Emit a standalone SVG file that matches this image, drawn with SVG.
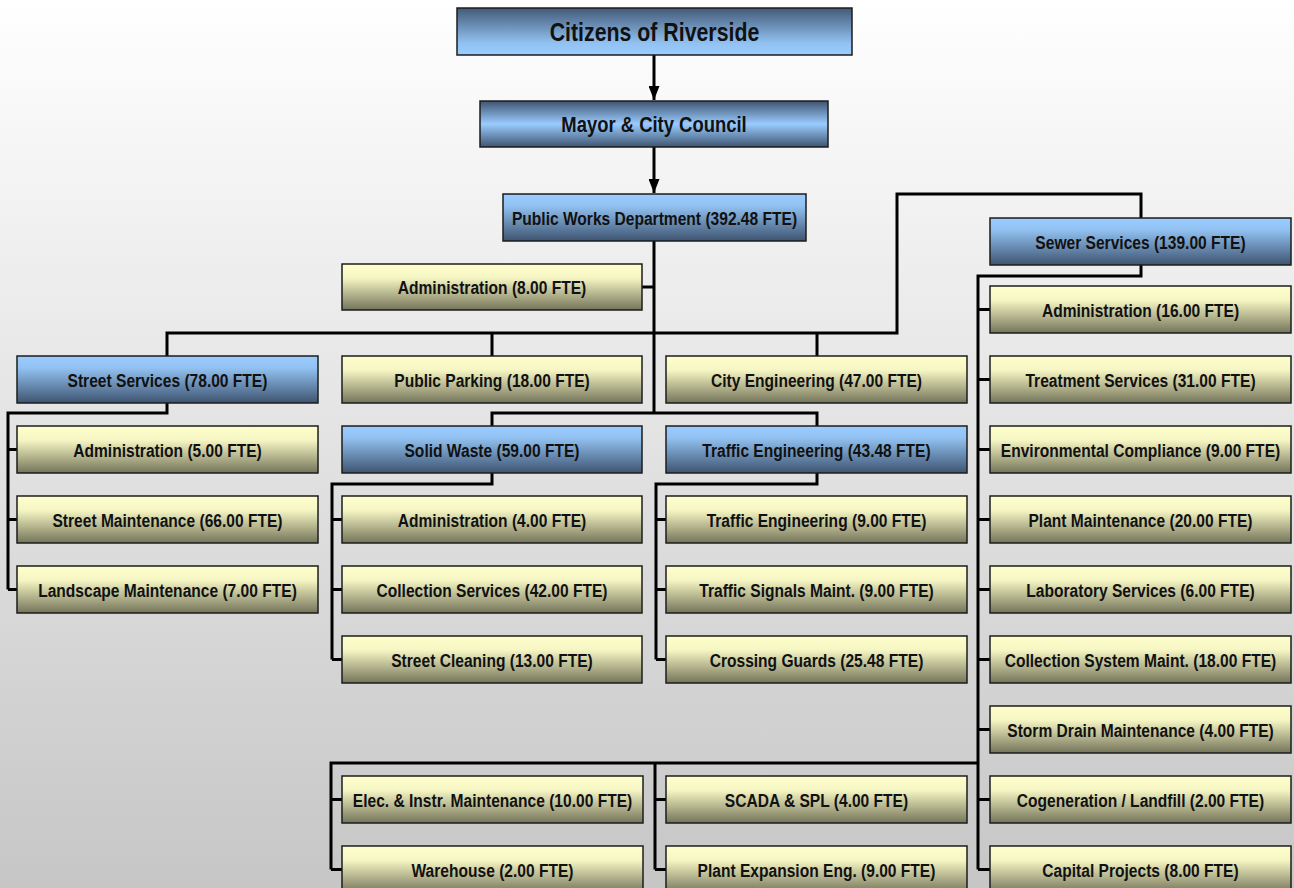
<svg xmlns="http://www.w3.org/2000/svg" width="1294" height="888" viewBox="0 0 1294 888">
<defs>
<linearGradient id="bg" x1="0" y1="0" x2="0" y2="1"><stop offset="0" stop-color="#ffffff"/><stop offset="1" stop-color="#c6c6c6"/></linearGradient>
<linearGradient id="blueUp" x1="0" y1="0" x2="0" y2="1"><stop offset="0" stop-color="#9accff"/><stop offset="0.25" stop-color="#92c2f2"/><stop offset="1" stop-color="#3e5470"/></linearGradient>
<linearGradient id="blueDown" x1="0" y1="0" x2="0" y2="1"><stop offset="0" stop-color="#435a78"/><stop offset="0.75" stop-color="#92c2f2"/><stop offset="1" stop-color="#9accff"/></linearGradient>
<linearGradient id="blueMid" x1="0" y1="0" x2="0" y2="1"><stop offset="0" stop-color="#3e5470"/><stop offset="0.5" stop-color="#9accff"/><stop offset="1" stop-color="#3e5470"/></linearGradient>
<linearGradient id="yel" x1="0" y1="0" x2="0" y2="1"><stop offset="0" stop-color="#ffffcc"/><stop offset="0.3" stop-color="#f6f6c4"/><stop offset="1" stop-color="#74745a"/></linearGradient>
<marker id="arr" viewBox="0 0 14 11" refX="14" refY="5.5" markerWidth="14" markerHeight="11" markerUnits="userSpaceOnUse" orient="auto"><path d="M0,0 L14,5.5 L0,11 Z" fill="#000"/></marker>
</defs>
<style>
.b{stroke:#1c1c1c;stroke-width:1.5}
.bu{fill:url(#blueUp)}
.y{fill:url(#yel)}
text{font-family:"Liberation Sans",Arial,sans-serif;font-weight:bold;font-size:19px;text-anchor:middle;fill:#111}
.c{fill:none;stroke:#000;stroke-width:3}
</style>
<rect width="1294" height="888" fill="url(#bg)"/>
<g id="connectors">
<path class="c" d="M654,55 V100" marker-end="url(#arr)"/>
<path class="c" d="M654,147 V193" marker-end="url(#arr)"/>
<path class="c" d="M654,241 V413"/>
<path class="c" d="M642,287 H654"/>
<path class="c" d="M167,356 V333 H897 V194 H1141 V218"/>
<path class="c" d="M492,333 V356 M817,333 V356"/>
<path class="c" d="M492,426 V413 H817 V426"/>
<path class="c" d="M167,403 V413 H8 V589.5 M8,449.5 H17 M8,519.5 H17 M8,589.5 H17"/>
<path class="c" d="M492,473 V484 H332 V659.5 M332,519.5 H342 M332,589.5 H342 M332,659.5 H342"/>
<path class="c" d="M817,473 V484 H656 V659.5 M656,519.5 H666 M656,589.5 H666 M656,659.5 H666"/>
<path class="c" d="M1141,265 V276 H978 V869.5 M978,309.5 H990 M978,379.5 H990 M978,449.5 H990 M978,519.5 H990 M978,589.5 H990 M978,659.5 H990 M978,729.5 H990 M978,799.5 H990 M978,869.5 H990"/>
<path class="c" d="M978,763 H331 V869.5 M331,799.5 H342 M331,869.5 H342 M655,763 V869.5 M655,799.5 H666 M655,869.5 H666"/>
</g>
<g id="citizens"><rect class="b" x="457" y="8" width="395" height="47" fill="url(#blueDown)"/><text transform="translate(654.5,41) scale(0.82,1)" style="font-size:26px">Citizens of Riverside</text></g>
<g id="mayor"><rect class="b" x="480" y="101" width="348" height="46" fill="url(#blueMid)"/><text transform="translate(654,132) scale(0.82,1)" style="font-size:22.5px">Mayor &amp; City Council</text></g>
<g id="pw"><rect class="b bu" x="503" y="194" width="303" height="47"/><text transform="translate(654.5,224.5) scale(0.82,1)">Public Works Department (392.48 FTE)</text></g>
<g id="admin8"><rect class="b y" x="342" y="264" width="300" height="46"/><text transform="translate(492,294) scale(0.82,1)">Administration (8.00 FTE)</text></g>
<g id="street"><rect class="b bu" x="17" y="356" width="301" height="47"/><text transform="translate(167.5,386.5) scale(0.82,1)">Street Services (78.00 FTE)</text></g>
<g id="parking"><rect class="b y" x="342" y="356" width="300" height="47"/><text transform="translate(492,386.5) scale(0.82,1)">Public Parking (18.00 FTE)</text></g>
<g id="cityeng"><rect class="b y" x="666" y="356" width="301" height="47"/><text transform="translate(816.5,386.5) scale(0.82,1)">City Engineering (47.00 FTE)</text></g>
<g id="street-admin"><rect class="b y" x="17" y="426" width="301" height="47"/><text transform="translate(167.5,456.5) scale(0.82,1)">Administration (5.00 FTE)</text></g>
<g id="street-maint"><rect class="b y" x="17" y="496" width="301" height="47"/><text transform="translate(167.5,526.5) scale(0.82,1)">Street Maintenance (66.00 FTE)</text></g>
<g id="landscape"><rect class="b y" x="17" y="566" width="301" height="47"/><text transform="translate(167.5,596.5) scale(0.82,1)">Landscape Maintenance (7.00 FTE)</text></g>
<g id="solidwaste"><rect class="b bu" x="342" y="426" width="300" height="47"/><text transform="translate(492,456.5) scale(0.82,1)">Solid Waste (59.00 FTE)</text></g>
<g id="sw-admin"><rect class="b y" x="342" y="496" width="300" height="47"/><text transform="translate(492,526.5) scale(0.82,1)">Administration (4.00 FTE)</text></g>
<g id="collection"><rect class="b y" x="342" y="566" width="300" height="47"/><text transform="translate(492,596.5) scale(0.82,1)">Collection Services (42.00 FTE)</text></g>
<g id="cleaning"><rect class="b y" x="342" y="636" width="300" height="47"/><text transform="translate(492,666.5) scale(0.82,1)">Street Cleaning (13.00 FTE)</text></g>
<g id="traffic"><rect class="b bu" x="666" y="426" width="301" height="47"/><text transform="translate(816.5,456.5) scale(0.82,1)">Traffic Engineering (43.48 FTE)</text></g>
<g id="tr-eng"><rect class="b y" x="666" y="496" width="301" height="47"/><text transform="translate(816.5,526.5) scale(0.82,1)">Traffic Engineering (9.00 FTE)</text></g>
<g id="tr-signals"><rect class="b y" x="666" y="566" width="301" height="47"/><text transform="translate(816.5,596.5) scale(0.82,1)">Traffic Signals Maint. (9.00 FTE)</text></g>
<g id="crossing"><rect class="b y" x="666" y="636" width="301" height="47"/><text transform="translate(816.5,666.5) scale(0.82,1)">Crossing Guards (25.48 FTE)</text></g>
<g id="sewer"><rect class="b bu" x="990" y="218" width="301" height="47"/><text transform="translate(1140.5,248.5) scale(0.82,1)">Sewer Services (139.00 FTE)</text></g>
<g id="sw-admin16"><rect class="b y" x="990" y="286" width="301" height="47"/><text transform="translate(1140.5,316.5) scale(0.82,1)">Administration (16.00 FTE)</text></g>
<g id="treatment"><rect class="b y" x="990" y="356" width="301" height="47"/><text transform="translate(1140.5,386.5) scale(0.82,1)">Treatment Services (31.00 FTE)</text></g>
<g id="envcomp"><rect class="b y" x="990" y="426" width="301" height="47"/><text transform="translate(1140.5,456.5) scale(0.82,1)">Environmental Compliance (9.00 FTE)</text></g>
<g id="plantmaint"><rect class="b y" x="990" y="496" width="301" height="47"/><text transform="translate(1140.5,526.5) scale(0.82,1)">Plant Maintenance (20.00 FTE)</text></g>
<g id="lab"><rect class="b y" x="990" y="566" width="301" height="47"/><text transform="translate(1140.5,596.5) scale(0.82,1)">Laboratory Services (6.00 FTE)</text></g>
<g id="collsys"><rect class="b y" x="990" y="636" width="301" height="47"/><text transform="translate(1140.5,666.5) scale(0.82,1)">Collection System Maint. (18.00 FTE)</text></g>
<g id="storm"><rect class="b y" x="990" y="706" width="301" height="47"/><text transform="translate(1140.5,736.5) scale(0.82,1)">Storm Drain Maintenance (4.00 FTE)</text></g>
<g id="cogen"><rect class="b y" x="990" y="776" width="301" height="47"/><text transform="translate(1140.5,806.5) scale(0.82,1)">Cogeneration / Landfill (2.00 FTE)</text></g>
<g id="capital"><rect class="b y" x="990" y="846" width="301" height="47"/><text transform="translate(1140.5,876.5) scale(0.82,1)">Capital Projects (8.00 FTE)</text></g>
<g id="elec"><rect class="b y" x="342" y="776" width="301" height="47"/><text transform="translate(492.5,806.5) scale(0.82,1)">Elec. &amp; Instr. Maintenance (10.00 FTE)</text></g>
<g id="warehouse"><rect class="b y" x="342" y="846" width="301" height="47"/><text transform="translate(492.5,876.5) scale(0.82,1)">Warehouse (2.00 FTE)</text></g>
<g id="scada"><rect class="b y" x="666" y="776" width="301" height="47"/><text transform="translate(816.5,806.5) scale(0.82,1)">SCADA &amp; SPL (4.00 FTE)</text></g>
<g id="plantexp"><rect class="b y" x="666" y="846" width="301" height="47"/><text transform="translate(816.5,876.5) scale(0.82,1)">Plant Expansion Eng. (9.00 FTE)</text></g>
</svg>
